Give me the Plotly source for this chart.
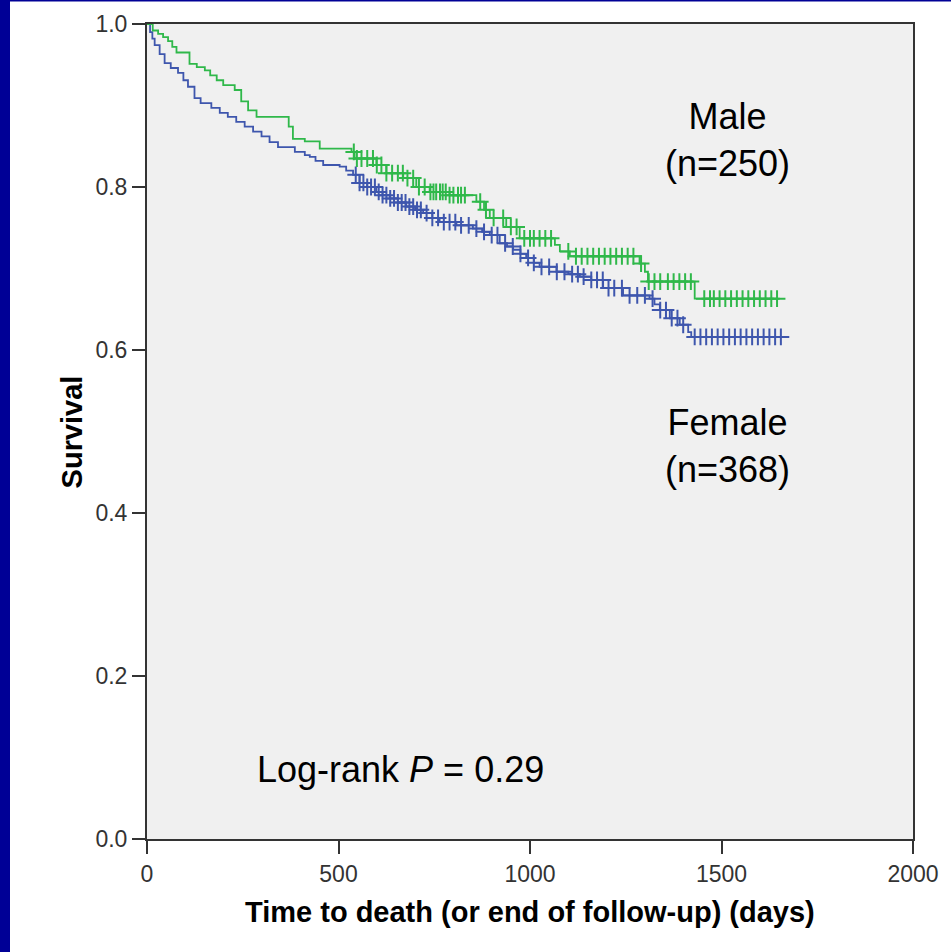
import numpy as np
import plotly.graph_objects as go

# Kaplan-Meier step points: (days, survival after the event)
male_days = [0, 15, 29, 42, 55, 66, 77, 111, 130, 151, 165, 182, 199, 229, 246, 264, 286,
             370, 381, 412, 451, 534, 542, 599, 625, 669, 703, 738, 790, 860, 880, 895,
             938, 973, 1065, 1078, 1104, 1286, 1300, 1308, 1430]
male_surv = [1.0, 0.992, 0.988, 0.984, 0.979, 0.972, 0.965, 0.951, 0.947, 0.943, 0.937,
             0.931, 0.925, 0.919, 0.905, 0.894, 0.886, 0.874, 0.859, 0.856, 0.847, 0.843,
             0.835, 0.827, 0.817, 0.811, 0.800, 0.794, 0.790, 0.782, 0.772, 0.762, 0.751,
             0.737, 0.729, 0.721, 0.715, 0.706, 0.696, 0.684, 0.663]
male_last_day = 1647

female_days = [0, 8, 14, 20, 33, 46, 62, 81, 95, 107, 124, 140, 168, 190, 211, 233, 255,
               277, 299, 320, 342, 386, 412, 425, 440, 460, 503, 520, 538, 555, 575, 599,
               615, 634, 655, 677, 700, 721, 745, 764, 808, 851, 875, 895, 921, 940, 956,
               975, 990, 1010, 1025, 1069, 1100, 1130, 1160, 1191, 1243, 1312, 1325, 1339,
               1365, 1391, 1413, 1421]
female_surv = [1.0, 0.990, 0.982, 0.974, 0.963, 0.952, 0.946, 0.940, 0.931, 0.923, 0.909,
               0.903, 0.897, 0.891, 0.886, 0.880, 0.874, 0.868, 0.862, 0.855, 0.849, 0.843,
               0.839, 0.837, 0.832, 0.827, 0.825, 0.820, 0.815, 0.805, 0.800, 0.794, 0.790,
               0.786, 0.781, 0.776, 0.772, 0.768, 0.762, 0.757, 0.753, 0.749, 0.745, 0.741,
               0.731, 0.727, 0.723, 0.718, 0.713, 0.707, 0.702, 0.696, 0.693, 0.690, 0.686,
               0.676, 0.667, 0.663, 0.656, 0.649, 0.639, 0.631, 0.622, 0.616]
female_last_day = 1656

# Censored observations (days)
male_censored = [540, 548, 560, 575, 590, 600, 612, 625, 640, 655, 668, 680, 695, 710, 725,
                 740, 748, 755, 765, 772, 780, 790, 800, 812, 820, 830, 870, 885, 905, 930,
                 950, 965, 985, 1000, 1010, 1025, 1040, 1055, 1100, 1120, 1135, 1150, 1165,
                 1180, 1195, 1210, 1225, 1240, 1255, 1270, 1290, 1310, 1325, 1340, 1360,
                 1375, 1390, 1405, 1420, 1455, 1470, 1480, 1495, 1510, 1525, 1540, 1555,
                 1570, 1585, 1600, 1615, 1630, 1645]
female_censored = [545, 555, 565, 575, 585, 595, 605, 615, 625, 635, 645, 655, 665, 675, 685,
                   695, 705, 715, 730, 745, 760, 775, 790, 805, 820, 840, 860, 880, 900, 915,
                   935, 955, 975, 995, 1010, 1030, 1050, 1070, 1090, 1110, 1125, 1140, 1160,
                   1175, 1190, 1205, 1220, 1240, 1260, 1280, 1300, 1320, 1340, 1355, 1370,
                   1385, 1400, 1430, 1445, 1460, 1475, 1490, 1505, 1520, 1535, 1550, 1565,
                   1580, 1595, 1610, 1625, 1640, 1655]

x_ticks = [0, 500, 1000, 1500, 2000]
y_ticks = [0.0, 0.2, 0.4, 0.6, 0.8, 1.0]

GREEN = "#2fb84a"
BLUE = "#3e56ad"
NAVY = "#000096"


def surv_at(days, surv, q):
    days = np.asarray(days)
    surv = np.asarray(surv)
    idx = np.searchsorted(days, np.asarray(q), side="right") - 1
    return surv[idx]


fig = go.Figure()

for days, surv, last, cens, color in [
    (female_days, female_surv, female_last_day, female_censored, BLUE),
    (male_days, male_surv, male_last_day, male_censored, GREEN),
]:
    fig.add_trace(go.Scatter(
        x=list(days) + [last], y=list(surv) + [surv[-1]],
        mode="lines", line=dict(color=color, width=1.8, shape="hv"),
        showlegend=False, hoverinfo="skip",
    ))
    fig.add_trace(go.Scatter(
        x=cens, y=surv_at(days, surv, cens),
        mode="markers",
        marker=dict(symbol="cross-thin", size=12, line=dict(color=color, width=2)),
        showlegend=False, hoverinfo="skip",
    ))

tick_font = dict(family="Liberation Sans Narrow, Arial Narrow, Liberation Sans, Arial",
                 size=23, color="#333333")
axis_common = dict(showline=True, mirror=True, linecolor="#333333", linewidth=2,
                   ticks="outside", ticklen=13, tickwidth=2, tickcolor="#333333",
                   showgrid=False, zeroline=False, tickfont=tick_font)

fig.update_xaxes(range=[0, 2000], tickvals=x_ticks, ticktext=[str(v) for v in x_ticks],
                 **axis_common)
fig.update_yaxes(range=[0, 1], tickvals=y_ticks, ticktext=[f"{v:.1f}" for v in y_ticks],
                 **axis_common)

label_font = dict(family="Liberation Sans, Arial", size=36, color="#000000")
title_font = dict(family="Liberation Sans, Arial", size=29, color="#000000")

annotations = [
    dict(x=1516, y=0.858, xref="x", yref="y", text="Male<br>(n=250)",
         showarrow=False, font=label_font, align="center"),
    dict(x=1516, y=0.482, xref="x", yref="y", text="Female<br>(n=368)",
         showarrow=False, font=label_font, align="center"),
    dict(x=281, y=0.085, xref="x", yref="y", xanchor="left",
         text="Log-rank <i>P</i> = 0.29", showarrow=False, font=label_font),
    dict(x=0.5, y=-0.09, xref="paper", yref="paper", xanchor="center", yanchor="middle",
         text="<b>Time to death (or end of follow-up) (days)</b>",
         showarrow=False, font=title_font),
    dict(x=-0.098, y=0.5, xref="paper", yref="paper", xanchor="center", yanchor="middle",
         textangle=-90, text="<b>Survival</b>", showarrow=False, font=title_font),
]

plot_w, plot_h = 766, 815
ml, mt = 147, 24
shapes = [
    # navy frame strips along the left and top edges of the page
    dict(type="rect", xref="paper", yref="paper", layer="above",
         x0=-ml / plot_w, x1=(10 - ml) / plot_w,
         y0=-(952 - mt - plot_h) / plot_h, y1=1 + mt / plot_h,
         fillcolor=NAVY, line=dict(width=0)),
    dict(type="rect", xref="paper", yref="paper", layer="above",
         x0=-ml / plot_w, x1=(951 - ml) / plot_w,
         y0=1 + (mt - 1.5) / plot_h, y1=1 + mt / plot_h,
         fillcolor=NAVY, line=dict(width=0)),
]

fig.update_layout(
    width=951, height=952,
    margin=dict(l=ml, r=951 - ml - plot_w, t=mt, b=952 - mt - plot_h),
    paper_bgcolor="#ffffff", plot_bgcolor="#f0f0f0",
    annotations=annotations, shapes=shapes,
    font=dict(family="Liberation Sans, Arial"),
)

fig.write_html("out.html")
